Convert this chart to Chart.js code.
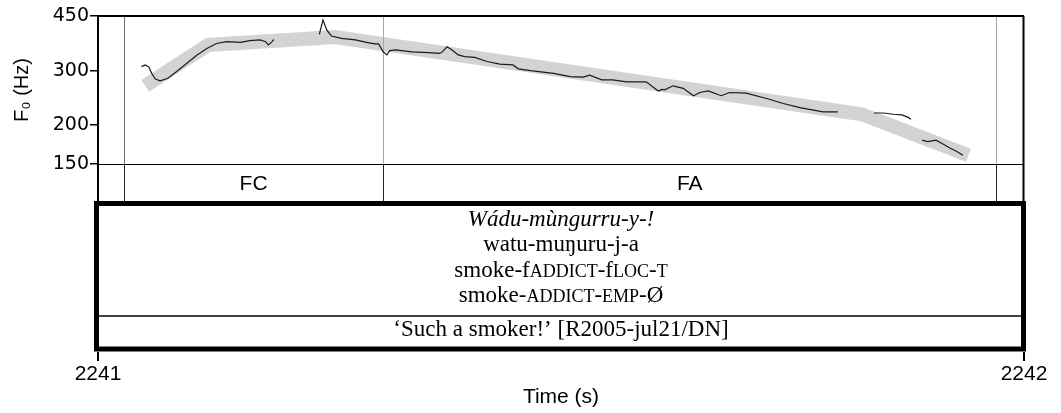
<!DOCTYPE html>
<html>
<head>
<meta charset="utf-8">
<script src="https://cdn.jsdelivr.net/npm/chart.js@4.4.1/dist/chart.umd.min.js"></script>
<style>
  body { margin: 0; background: #fff; }
  #wrap { width: 1061px; height: 413px; }
</style>
</head>
<body>
<div id="wrap"><canvas id="pitch"></canvas></div>
<script>
// stylised contour (thick grey band)
const stylTime = [2241.051, 2241.119, 2241.256, 2241.825, 2241.940];
const stylHz = [268, 363, 385, 217, 160];

// measured F0 track, null marks an unvoiced gap
const trackTime = [
  2241.047, 2241.051, 2241.055, 2241.058, 2241.062, 2241.067, 2241.075, 2241.085, 2241.096, 2241.107,
  2241.118, 2241.128, 2241.139, 2241.154, 2241.164, 2241.175, 2241.181, 2241.184, 2241.188, 2241.190,
  2241.215,
  2241.239, 2241.243, 2241.247, 2241.252, 2241.263, 2241.278, 2241.290, 2241.299, 2241.303, 2241.308,
  2241.312, 2241.315, 2241.321, 2241.339, 2241.357, 2241.368, 2241.371, 2241.377, 2241.382, 2241.389,
  2241.396, 2241.407, 2241.420, 2241.434, 2241.448, 2241.454, 2241.467, 2241.492, 2241.510, 2241.524,
  2241.531, 2241.544, 2241.556, 2241.571, 2241.592, 2241.605, 2241.609, 2241.612, 2241.621, 2241.632,
  2241.643, 2241.650, 2241.659, 2241.673, 2241.682, 2241.700, 2241.722, 2241.740, 2241.758, 2241.783,
  2241.799,
  2241.818,
  2241.838, 2241.848, 2241.859, 2241.868, 2241.875, 2241.878,
  2241.884,
  2241.890, 2241.896, 2241.905, 2241.911, 2241.920, 2241.927, 2241.934
];
const trackHz = [
  309, 313, 308, 294, 282, 278, 283, 298, 317, 337,
  354, 367, 372, 370, 375, 377, 372, 363, 372, 378,
  null,
  393, 437, 406, 388, 381, 377, 370, 366, 366, 345,
  337, 348, 350, 345, 343, 341, 343, 358, 350, 337,
  333, 331, 321, 315, 313, 304, 300, 294, 287, 286,
  290, 280, 280, 276, 276, 258, 261, 260, 268, 263,
  249, 255, 258, 249, 255, 254, 244, 235, 228, 221,
  221,
  null,
  219, 219, 217, 216, 212, 209,
  null,
  179, 177, 179, 175, 169, 165, 160
];

const hzTicks = [150, 200, 300, 450];
const timeTicks = [2241, 2242];

// phrase tier
const tierBounds = [2241.028, 2241.308, 2241.970];
const tierLabels = ['FC', 'FA'];

// interlinear gloss, {..} = small caps
const glossLines = [
  'Wádu-mùngurru-y-!',
  'watu-muŋuru-j-a',
  'smoke-f{ADDICT}-f{LOC}-{T}',
  'smoke-{ADDICT}-{EMP}-Ø',
  '‘Such a smoker!’ [R2005-jul21/DN]'
];

Chart.defaults.font.family = '"Liberation Sans", Arial, sans-serif';
Chart.defaults.color = '#000';

const serif = '"Liberation Serif", "Times New Roman", serif';

function drawRich(ctx, str, cx, baseline, size, italic) {
  const parts = str.split(/(\{[^}]*\})/).filter(Boolean).map(p =>
    p[0] === '{' ? { t: p.slice(1, -1), sc: true } : { t: p, sc: false });
  const fontFor = p => (italic ? 'italic ' : '') + (p.sc ? Math.round(size * 0.78) : size) + 'px ' + serif;
  let total = 0;
  parts.forEach(p => { ctx.font = fontFor(p); p.w = ctx.measureText(p.t).width; total += p.w; });
  let x0 = cx - total / 2;
  parts.forEach(p => { ctx.font = fontFor(p); ctx.fillText(p.t, x0, baseline); x0 += p.w; });
}

const panelPlugin = {
  id: 'panel',
  afterDatasetDraw(chart, args) {
    // boundary lines go between the grey band and the raw track
    if (args.index !== 1) return;
    const { ctx, scales: { x, y } } = chart;
    ctx.save();
    ctx.lineWidth = 1;
    tierBounds.forEach((t, i) => {
      const px = Math.round(x.getPixelForValue(t)) + 0.5;
      ctx.strokeStyle = i === 0 ? '#6e6e6e' : '#a8a8a8';
      ctx.beginPath();
      ctx.moveTo(px, y.top);
      ctx.lineTo(px, y.bottom);
      ctx.stroke();
    });
    ctx.restore();
  },
  afterDraw(chart) {
    const { ctx, scales: { x, y, tier, gloss } } = chart;
    ctx.save();
    ctx.strokeStyle = '#000';

    // frame round the F0 panel and tier
    ctx.lineWidth = 2;
    ctx.beginPath();
    ctx.moveTo(x.left, y.top);
    ctx.lineTo(x.right, y.top);
    ctx.moveTo(x.right - 0.5, y.top);
    ctx.lineTo(x.right - 0.5, tier.bottom);
    ctx.stroke();
    ctx.lineWidth = 1;
    ctx.beginPath();
    ctx.moveTo(x.left, Math.round(y.bottom) + 0.5);
    ctx.lineTo(x.right, Math.round(y.bottom) + 0.5);
    ctx.stroke();

    // tier boundaries and labels
    ctx.strokeStyle = '#222';
    tierBounds.forEach(t => {
      const px = Math.round(x.getPixelForValue(t)) + 0.5;
      ctx.beginPath();
      ctx.moveTo(px, tier.top);
      ctx.lineTo(px, tier.bottom);
      ctx.stroke();
    });
    ctx.fillStyle = '#000';
    ctx.font = '21px "Liberation Sans", Arial, sans-serif';
    ctx.textAlign = 'center';
    ctx.textBaseline = 'middle';
    tierLabels.forEach((lab, i) => {
      const cx = (x.getPixelForValue(tierBounds[i]) + x.getPixelForValue(tierBounds[i + 1])) / 2;
      ctx.fillText(lab, cx, (tier.top + tier.bottom) / 2 + 1);
    });

    // gloss box
    ctx.lineWidth = 5;
    ctx.strokeStyle = '#000';
    const bx0 = x.left - 1.5, bx1 = x.right - 0.5;
    const by0 = gloss.top + 1.5, by1 = gloss.bottom - 3;
    ctx.strokeRect(bx0, by0, bx1 - bx0, by1 - by0);
    ctx.lineWidth = 1.5;
    ctx.beginPath();
    ctx.moveTo(bx0, gloss.top + 114);
    ctx.lineTo(bx1, gloss.top + 114);
    ctx.stroke();

    ctx.textAlign = 'left';
    ctx.textBaseline = 'alphabetic';
    const cx = (x.left + x.right) / 2;
    const baselines = [24, 49, 75, 100, 134];
    glossLines.forEach((line, i) => {
      drawRich(ctx, line, cx, gloss.top + baselines[i], 23, i === 0);
    });
    ctx.restore();
  }
};

const ctx = document.getElementById('pitch').getContext('2d');
const pitchChart = new Chart(ctx, {
  type: 'line',
  data: {
    datasets: [
      {
        label: 'F0',
        data: trackTime.map((t, i) => ({ x: t, y: trackHz[i] })),
        borderColor: '#1a1a1a',
        borderWidth: 1.2,
        pointRadius: 0,
        tension: 0,
        spanGaps: false
      },
      {
        label: 'Stylisation',
        data: stylTime.map((t, i) => ({ x: t, y: stylHz[i] })),
        borderColor: '#d3d3d3',
        borderWidth: 14,
        borderCapStyle: 'butt',
        borderJoinStyle: 'miter',
        pointRadius: 0,
        tension: 0
      }
    ]
  },
  options: {
    responsive: true,
    maintainAspectRatio: false,
    animation: false,
    layout: { padding: { top: 16, right: 37, left: 0, bottom: 0 } },
    plugins: {
      legend: { display: false },
      tooltip: { enabled: false }
    },
    scales: {
      x: {
        type: 'linear',
        min: 2241,
        max: 2242,
        afterBuildTicks: s => { s.ticks = timeTicks.map(v => ({ value: v })); },
        afterFit: s => { s.height = 61; },
        ticks: { callback: v => String(v), autoSkip: false, maxRotation: 0, padding: 1, font: { size: 21 } },
        grid: { drawOnChartArea: false, tickLength: 9, color: '#000', lineWidth: 2 },
        border: { display: false },
        title: { display: true, text: 'Time (s)', font: { size: 21 }, padding: { top: 0, bottom: 3 } }
      },
      y: {
        type: 'logarithmic',
        position: 'left',
        stack: 'panel',
        stackWeight: 148,
        weight: 3,
        min: 150,
        max: 450,
        afterBuildTicks: s => { s.ticks = hzTicks.map(v => ({ value: v })); },
        afterFit: s => { s.width = 98; },
        ticks: { callback: v => String(v), autoSkip: false, padding: 1, font: { family: '"DejaVu Sans", sans-serif', size: 19 } },
        grid: { drawOnChartArea: false, tickLength: 8, color: '#000', lineWidth: 1.5 },
        border: { color: '#000', width: 2 },
        title: { display: true, text: 'F₀ (Hz)', font: { size: 20 }, padding: { top: 10, bottom: 0 } }
      },
      tier: {
        type: 'linear',
        position: 'left',
        stack: 'panel',
        stackWeight: 38,
        weight: 2,
        min: 0,
        max: 1,
        afterFit: s => { s.width = 98; },
        ticks: { display: false },
        grid: { display: false },
        border: { color: '#000', width: 2 }
      },
      gloss: {
        type: 'linear',
        position: 'left',
        stack: 'panel',
        stackWeight: 150,
        weight: 1,
        min: 0,
        max: 1,
        afterFit: s => { s.width = 98; },
        ticks: { display: false },
        grid: { display: false },
        border: { display: false }
      }
    }
  },
  plugins: [panelPlugin]
});
</script>
</body>
</html>
